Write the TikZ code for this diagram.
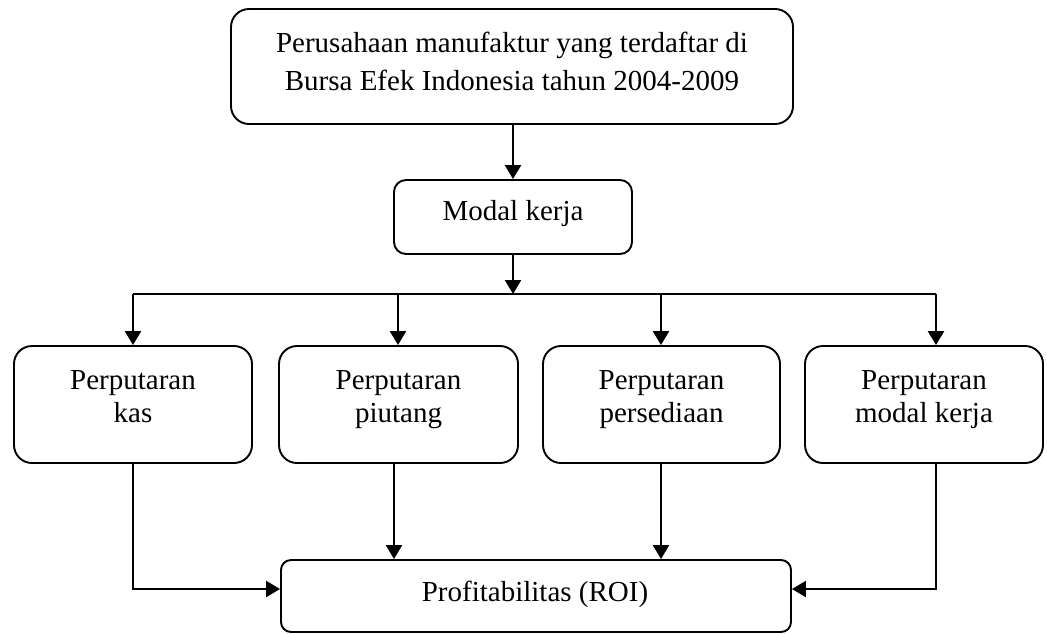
\documentclass[tikz,border=0pt]{standalone}
\usepackage{fontspec}
\setmainfont{Liberation Serif}
\usetikzlibrary{arrows.meta}
\begin{document}
\begin{tikzpicture}[x=0.5pt,y=-0.5pt,
  box/.style={draw, line width=0.95pt, rounded corners=9pt, inner sep=0pt},
  lbl/.style={anchor=base, align=center, inner sep=0pt, font=\fontsize{14.5}{16.75}\selectfont},
  conn/.style={line width=1.2pt},
  arr/.style={conn, -{Triangle[length=7pt,width=8pt]}}]
\useasboundingbox (0,0) rectangle (1047,633);

% boxes
\node[box, minimum width=281pt, minimum height=57.5pt] (top) at (512,66.5) {};
\node[box, rounded corners=6pt, minimum width=119pt, minimum height=37pt] (modal) at (513,217) {};
\node[box, minimum width=119pt, minimum height=58.5pt] (b1) at (133,404.5) {};
\node[box, minimum width=119.5pt, minimum height=58.5pt] (b2) at (398.5,404.5) {};
\node[box, minimum width=118.5pt, minimum height=58.5pt] (b3) at (661.5,404.5) {};
\node[box, minimum width=119pt, minimum height=58.5pt] (b4) at (924,404.5) {};
\node[box, rounded corners=5pt, minimum width=255pt, minimum height=36pt] (bot) at (536,596) {};

% texts (base anchor = baseline of the last line)
\node[lbl, font=\fontsize{14.5}{19}\selectfont] (topT) at (512,90) {Perusahaan manufaktur yang terdaftar di\\Bursa Efek Indonesia tahun 2004-2009};
\node[lbl] (modalT) at (513,220) {Modal kerja};
\node[lbl] (b1T) at (133,422.7) {Perputaran\\kas};
\node[lbl] (b2T) at (398.5,422.7) {Perputaran\\piutang};
\node[lbl] (b3T) at (661.5,422.7) {Perputaran\\persediaan};
\node[lbl] (b4T) at (924,422.7) {Perputaran\\modal kerja};
\node[lbl] (botT) at (535,601) {Profitabilitas (ROI)};

% bus coordinates
\coordinate (bus1) at (133,294);
\coordinate (bus2) at (398,294);
\coordinate (bus3) at (661,294);
\coordinate (bus4) at (936,294);
\coordinate (j1) at (133,589);
\coordinate (j4) at (936,589);
\coordinate (d2) at (394,463);

% connectors
\draw[arr] (modal.north |- top.south) -- (modal.north);
\draw[arr] (modal.south) -- (modal.south |- bus1);
\draw[conn] (bus1) -- (bus4);
\draw[arr] (bus1) -- (bus1 |- b1.north);
\draw[arr] (bus2) -- (bus2 |- b2.north);
\draw[arr] (bus3) -- (bus3 |- b3.north);
\draw[arr] (bus4) -- (bus4 |- b4.north);

\draw[arr] (j1 |- b1.south) -- (j1) -- (j1 -| bot.west);
\draw[arr] (d2) -- (d2 |- bot.north);
\draw[arr] (bus3 |- b3.south) -- (bus3 |- bot.north);
\draw[arr] (j4 |- b4.south) -- (j4) -- (j4 -| bot.east);
\end{tikzpicture}
\end{document}
